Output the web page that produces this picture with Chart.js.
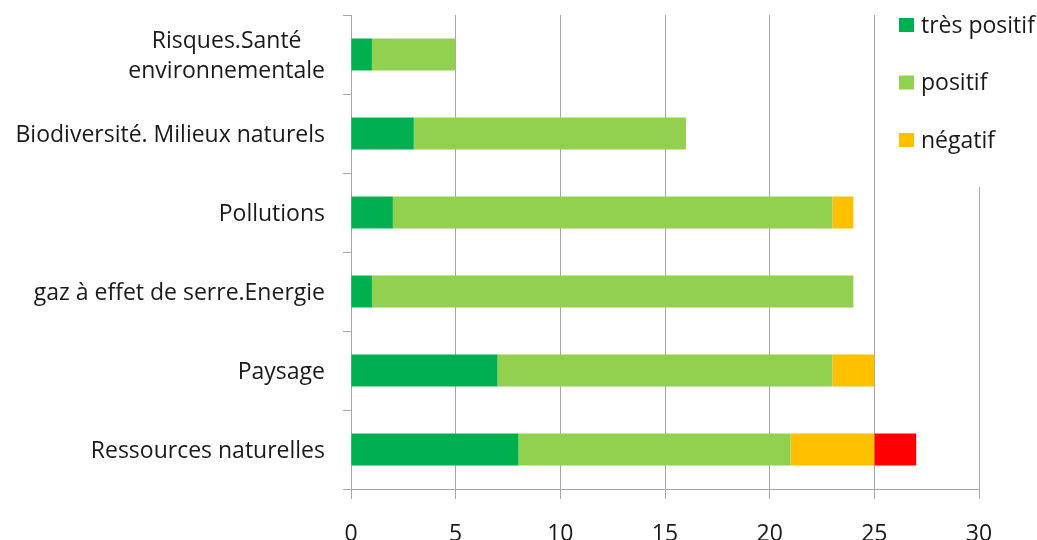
<!DOCTYPE html>
<html>
<head>
<meta charset="utf-8">
<script src="https://cdn.jsdelivr.net/npm/chart.js@4/dist/chart.umd.min.js"></script>
<style>
  html, body { margin: 0; padding: 0; background: #fff; }
  #wrap { width: 1037px; height: 540px; }
</style>
</head>
<body>
<div id="wrap"><canvas id="chart" width="1037" height="540"></canvas></div>
<script>
// Catégories (de haut en bas)
const categories = [
  ['Risques.Santé', 'environnementale'],
  'Biodiversité. Milieux naturels',
  'Pollutions',
  'gaz à effet de serre.Energie',
  'Paysage',
  'Ressources naturelles'
];

// Valeurs par série
const tresPositif = [1, 3, 2, 1, 7, 8];
const positif     = [4, 13, 21, 23, 16, 13];
const negatif     = [0, 0, 1, 0, 2, 4];
const tresNegatif = [0, 0, 0, 0, 0, 2];

// Graduations de l'axe horizontal
const xMin = 0, xMax = 30, xStep = 5;

const FONT = '"Open Sans", sans-serif';
const TEXT = '#1a1a1a';
const GRID = '#a6a6a6';
const SIZE = 23;

// Légende dessinée à la main en haut à droite (la série rouge n'y figure pas)
const legendPlugin = {
  id: 'cornerLegend',
  afterDraw(chart) {
    const ctx = chart.ctx;
    ctx.save();
    ctx.fillStyle = '#fff';
    ctx.fillRect(884, 0, 153, 187);
    ctx.font = SIZE + 'px ' + FONT;
    ctx.textBaseline = 'middle';
    ctx.textAlign = 'left';
    let y = 25;
    chart.data.datasets.forEach(ds => {
      if (ds.hideInLegend) return;
      ctx.fillStyle = ds.backgroundColor;
      ctx.fillRect(899, y - 7, 15, 14);
      ctx.fillStyle = TEXT;
      ctx.fillText(ds.label, 921, y + 1);
      y += 57.5;
    });
    ctx.restore();
  }
};

// Libellés des catégories : lignes centrées entre elles, bloc aligné à droite
const yLabelPlugin = {
  id: 'yLabels',
  afterDraw(chart) {
    const scale = chart.scales.y;
    const ctx = chart.ctx;
    ctx.save();
    ctx.font = SIZE + 'px ' + FONT;
    ctx.fillStyle = TEXT;
    ctx.textAlign = 'center';
    ctx.textBaseline = 'middle';
    const right = scale.right - 26;
    chart.data.labels.forEach((lab, i) => {
      const lines = Array.isArray(lab) ? lab : [lab];
      const w = Math.max(...lines.map(l => ctx.measureText(l).width));
      const cx = right - w / 2;
      const lh = 30;
      const y0 = scale.getPixelForTick(i) - (lines.length - 1) * lh / 2 + 2;
      lines.forEach((l, k) => ctx.fillText(l, cx, y0 + k * lh));
    });
    ctx.restore();
  }
};

const data = {
  labels: categories,
  datasets: [
    { label: 'très positif', data: tresPositif, backgroundColor: '#00b050' },
    { label: 'positif', data: positif, backgroundColor: '#92d050' },
    { label: 'négatif', data: negatif, backgroundColor: '#ffc000' },
    { label: 'très négatif', data: tresNegatif, backgroundColor: '#ff0000', hideInLegend: true }
  ]
};

const config = {
  type: 'bar',
  data: data,
  options: {
    indexAxis: 'y',
    responsive: false,
    animation: false,
    layout: { padding: { top: 15, right: 58, bottom: 0, left: 0 } },
    datasets: {
      bar: { categoryPercentage: 1, barPercentage: 0.405, borderWidth: 0 }
    },
    plugins: {
      legend: { display: false },
      tooltip: { enabled: false }
    },
    scales: {
      x: {
        stacked: true,
        min: xMin,
        max: xMax,
        ticks: { stepSize: xStep, color: TEXT, font: { family: FONT, size: SIZE }, padding: 22 },
        grid: { color: GRID, lineWidth: 1, tickLength: 10 },
        border: { color: GRID, width: 1 },
        afterFit(s) { s.height = 51; }
      },
      y: {
        stacked: true,
        ticks: { display: false },
        grid: { drawOnChartArea: false, color: GRID, tickLength: 8, offset: true },
        border: { color: GRID, width: 1 },
        afterFit(s) { s.width = 351; }
      }
    }
  },
  plugins: [yLabelPlugin, legendPlugin]
};

const chartElement = document.getElementById('chart');
const myChart = new Chart(chartElement, config);
</script>
</body>
</html>
